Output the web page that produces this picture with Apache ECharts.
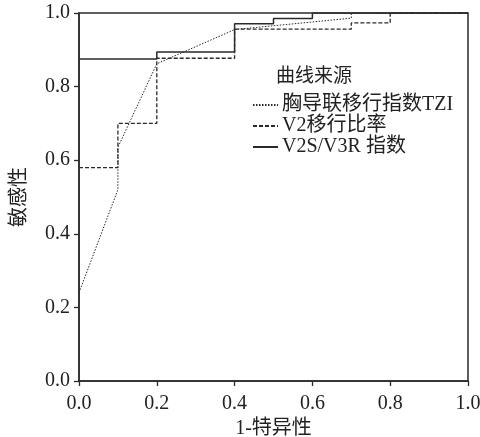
<!DOCTYPE html>
<html><head><meta charset="utf-8">
<script src="https://cdn.jsdelivr.net/npm/echarts@6/dist/echarts.min.js"></script>
<style>html,body{margin:0;padding:0;background:#fff}#c{width:480px;height:437px}</style>
</head><body><div id="c"></div>
<script>
const seriesNames = ['胸导联移行指数TZI', 'V2移行比率', 'V2S/V3R 指数'];
const tziX = [0, 0.1, 0.1, 0.2, 0.4, 0.7, 0.7, 1.0];
const tziY = [0.24, 0.52, 0.635, 0.862, 0.955, 0.986, 1.0, 1.0];
const v2X = [0, 0.1, 0.1, 0.2, 0.2, 0.4, 0.4, 0.7, 0.7, 0.8, 0.8, 1.0];
const v2Y = [0.58, 0.58, 0.70, 0.70, 0.877, 0.877, 0.956, 0.956, 0.973, 0.973, 1.0, 1.0];
const v3X = [0, 0.2, 0.2, 0.4, 0.4, 0.5, 0.5, 0.6, 0.6, 1.0];
const v3Y = [0.875, 0.875, 0.894, 0.894, 0.971, 0.971, 0.985, 0.985, 1.0, 1.0];

const pair = (xs, ys) => xs.map((x, i) => [x, ys[i]]);
const FONT = '"Liberation Serif", "Noto Sans CJK SC", serif';
const C = '#2a2a2a';
const chart = echarts.init(document.getElementById('c'));
const axisCommon = {
  type: 'value', min: 0, max: 1, interval: 0.2,
  axisLine: { show: true, lineStyle: { color: C, width: 1.5 } },
  axisTick: { show: true, length: 5, inside: false, lineStyle: { color: C, width: 1.3 } },
  splitLine: { show: false },
  axisLabel: { color: '#222', fontFamily: FONT, fontSize: 20, formatter: v => v.toFixed(1) },
  nameTextStyle: { color: '#222', fontFamily: FONT, fontSize: 20 }
};
chart.setOption({
  animation: false,
  backgroundColor: '#fff',
  grid: { left: 79, right: 12, top: 13, bottom: 56, show: true, borderColor: C, borderWidth: 1.5,
          containLabel: false, outerBoundsMode: 'none' },
  xAxis: Object.assign({}, axisCommon, {
    name: '1-特异性', nameLocation: 'middle', nameGap: 35,
    axisLabel: Object.assign({}, axisCommon.axisLabel, { margin: 13 })
  }),
  yAxis: Object.assign({}, axisCommon, {
    name: '敏感性', nameLocation: 'middle', nameGap: 49, nameRotate: 90,
    axisLabel: Object.assign({}, axisCommon.axisLabel, { margin: 9 })
  }),
  legend: {
    orient: 'vertical', left: 247, top: 90, itemWidth: 25, itemHeight: 14, itemGap: 1,
    itemStyle: { opacity: 0 },
    textStyle: { color: '#222', fontFamily: FONT, fontSize: 20, padding: [0, 0, 0, -1] },
    data: seriesNames
  },
  graphic: [{
    type: 'text', left: 276, top: 68,
    style: { text: '曲线来源', fill: '#222', font: '19px ' + FONT }
  }],
  series: [
    { name: seriesNames[0], type: 'line', data: pair(tziX, tziY), symbol: 'none',
      lineStyle: { color: C, width: 1, type: [1.5, 1.5] }, itemStyle: { color: C } },
    { name: seriesNames[1], type: 'line', data: pair(v2X, v2Y), symbol: 'none',
      lineStyle: { color: C, width: 1.3, type: [4, 2] }, itemStyle: { color: C } },
    { name: seriesNames[2], type: 'line', data: pair(v3X, v3Y), symbol: 'none',
      lineStyle: { color: C, width: 1.5, type: 'solid' }, itemStyle: { color: C } }
  ]
});
</script></body></html>
